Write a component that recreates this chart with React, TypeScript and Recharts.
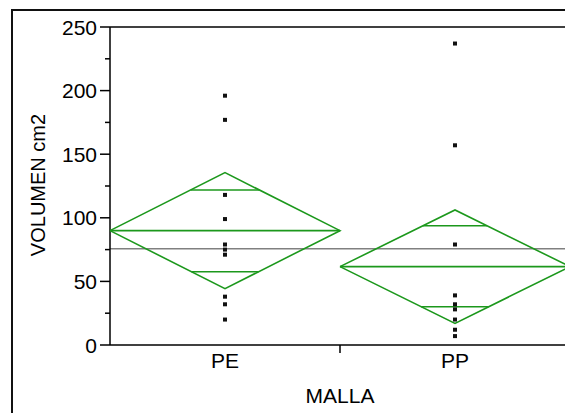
import { ComposedChart, Scatter, XAxis, YAxis, ReferenceLine, Label } from 'recharts';

const categories = ['PE', 'PP'];
const pePoints = [196, 177, 118, 99, 79, 75, 71, 38, 32, 20];
const ppPoints = [237, 157, 79, 39, 32, 28, 20, 12, 7];
const means = [89.9, 61.6];
const ciUpper = [135.5, 106.2];
const ciLower = [44.3, 17.0];
const overlapUpper = [121.9, 93.8];
const overlapLower = [57.6, 30.1];
const grandMean = 75.7;
const yTicks = [0, 25, 50, 75, 100, 125, 150, 175, 200, 225, 250];

const GREEN = '#1c981c';
const FONT = 'Liberation Sans, Arial, sans-serif';

// raw observations, centered in each category band
const rawPoints = [
  ...pePoints.map((v) => ({ x: 0.5, y: v })),
  ...ppPoints.map((v) => ({ x: 1.5, y: v })),
];

// means diamond outline for one category
const diamond = (i: number) => [
  { x: i, y: means[i] },
  { x: i + 0.5, y: ciUpper[i] },
  { x: i + 1, y: means[i] },
  { x: i + 0.5, y: ciLower[i] },
  { x: i, y: means[i] },
];

const meanLine = (i: number) => [
  { x: i, y: means[i] },
  { x: i + 1, y: means[i] },
];

// overlap marks span the diamond width at their height
const overlapMark = (i: number, v: number) => {
  const h = 0.5 * (1 - Math.abs(v - means[i]) / (ciUpper[i] - means[i]));
  return [
    { x: i + 0.5 - h, y: v },
    { x: i + 0.5 + h, y: v },
  ];
};

const noShape = () => <g />;

const SquareDot = (props: any) => (
  <rect x={props.cx - 2} y={props.cy - 2} width={4} height={4} fill="#111" />
);

const XTick = (props: any) => {
  const { x, y, payload } = props;
  if (payload.value === 1) {
    return <line x1={x} y1={y} x2={x} y2={y + 8} stroke="#000" strokeWidth={1.5} />;
  }
  const label = categories[Math.floor(payload.value)];
  return (
    <text x={x} y={y + 22.5} textAnchor="middle" fontSize={21} fontFamily={FONT} fill="#000">
      {label}
    </text>
  );
};

const YTick = (props: any) => {
  const { x, y, payload } = props;
  const major = payload.value % 50 === 0;
  return (
    <g>
      <line x1={x - (major ? 10 : 5)} y1={y} x2={x} y2={y} stroke="#000" strokeWidth={1.5} />
      {major && (
        <text x={x - 13} y={y} dy="0.36em" textAnchor="end" fontSize={21} fontFamily={FONT} fill="#000">
          {payload.value}
        </text>
      )}
    </g>
  );
};

export default function App() {
  return (
    <div
      style={{
        position: 'fixed',
        left: 0,
        top: 0,
        width: 565,
        height: 413,
        overflow: 'hidden',
        background: '#fff',
      }}
    >
      {/* outer frame, cropped at right and bottom */}
      <div
        style={{
          position: 'absolute',
          left: 11,
          top: 9,
          width: 800,
          height: 800,
          borderLeft: '2px solid #111',
          borderTop: '2px solid #111',
        }}
      />
      <div style={{ position: 'absolute', left: 0, top: 0 }}>
        <ComposedChart width={600} height={413} margin={{ top: 27, right: 30, bottom: 0, left: 0 }}>
          <XAxis
            type="number"
            dataKey="x"
            domain={[0, 2]}
            ticks={[0.5, 1, 1.5]}
            height={68}
            tickSize={0}
            tickMargin={0}
            tickLine={false}
            tick={XTick}
            axisLine={{ stroke: '#000', strokeWidth: 1.5 }}
            label={
              <Label
                content={(p: any) => (
                  <text
                    x={p.viewBox.x + p.viewBox.width / 2}
                    y={p.viewBox.y + 58}
                    textAnchor="middle"
                    fontSize={21}
                    fontFamily={FONT}
                    fill="#000"
                  >
                    MALLA
                  </text>
                )}
              />
            }
          />
          <YAxis
            type="number"
            dataKey="y"
            domain={[0, 250]}
            ticks={yTicks}
            width={110}
            tickSize={0}
            tickMargin={0}
            tickLine={false}
            tick={YTick}
            axisLine={{ stroke: '#000', strokeWidth: 1.5 }}
            label={
              <Label
                content={(p: any) => (
                  <text
                    transform={`translate(${p.viewBox.x + 45},${p.viewBox.y + p.viewBox.height / 2 - 1}) rotate(-90)`}
                    textAnchor="middle"
                    fontSize={20}
                    fontFamily={FONT}
                    fill="#000"
                  >
                    VOLUMEN cm2
                  </text>
                )}
              />
            }
          />
          <ReferenceLine y={250} stroke="#000" strokeWidth={1.5} />
          <ReferenceLine y={grandMean} stroke="#808080" strokeWidth={1.5} />
          {categories.map((c, i) => (
            <Scatter
              key={`d-${c}`}
              data={diamond(i)}
              line={{ stroke: GREEN, strokeWidth: 1.6 }}
              shape={noShape}
              isAnimationActive={false}
            />
          ))}
          {categories.map((c, i) => (
            <Scatter
              key={`m-${c}`}
              data={meanLine(i)}
              line={{ stroke: GREEN, strokeWidth: 1.6 }}
              shape={noShape}
              isAnimationActive={false}
            />
          ))}
          {categories.map((c, i) => (
            <Scatter
              key={`ou-${c}`}
              data={overlapMark(i, overlapUpper[i])}
              line={{ stroke: GREEN, strokeWidth: 1.6 }}
              shape={noShape}
              isAnimationActive={false}
            />
          ))}
          {categories.map((c, i) => (
            <Scatter
              key={`ol-${c}`}
              data={overlapMark(i, overlapLower[i])}
              line={{ stroke: GREEN, strokeWidth: 1.6 }}
              shape={noShape}
              isAnimationActive={false}
            />
          ))}
          <Scatter data={rawPoints} shape={SquareDot} isAnimationActive={false} />
        </ComposedChart>
      </div>
    </div>
  );
}
